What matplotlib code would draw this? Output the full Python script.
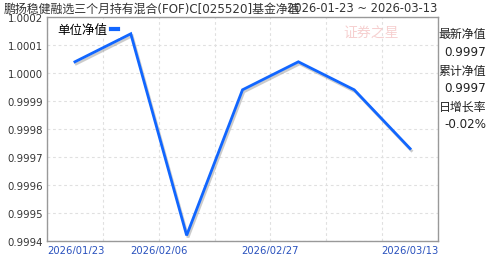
import matplotlib
matplotlib.use('Agg')
import matplotlib.pyplot as plt
import matplotlib.patheffects as pe
from matplotlib.lines import Line2D

plt.rcParams['font.family'] = ['DejaVu Sans', 'Noto Sans CJK SC']

# data
dates = ['2026/01/23', '2026/01/30', '2026/02/06', '2026/02/13',
         '2026/02/27', '2026/03/06', '2026/03/13']
nav = [1.00004, 1.00014, 0.99942, 0.99994, 1.00004, 0.99994, 0.99973]
y_ticks = [0.9994, 0.9995, 0.9996, 0.9997, 0.9998, 0.9999, 1.0000, 1.0001, 1.0002]
x_tick_labels = ['2026/01/23', '', '2026/02/06', '', '2026/02/27', '', '', '2026/03/13']

title_left = '鹏扬稳健融选三个月持有混合(FOF)C[025520]基金净值'
title_right = '2026-01-23 ~ 2026-03-13'
side_labels = ['最新净值', '0.9997', '累计净值', '0.9997', '日增长率', '-0.02%']

blue = '#1166ff'

fig = plt.figure(figsize=(4.88, 2.55), dpi=100)
ax = fig.add_axes([47 / 488, 13 / 255, 391 / 488, 224 / 255])

x = list(range(len(dates)))
ax.plot(x, nav, color=blue, lw=2.0, solid_joinstyle='miter',
        path_effects=[pe.SimpleLineShadow(offset=(1, -1.5), shadow_color='#999999', alpha=0.5),
                      pe.Normal()])

ax.set_xlim(-0.5, len(dates) - 0.5)
ax.set_ylim(y_ticks[0], y_ticks[-1])
ax.set_yticks(y_ticks)
ax.set_yticklabels([f'{v:.4f}' for v in y_ticks], fontsize=7.3, color='#333333')

grid_x = [i - 0.5 for i in range(len(x_tick_labels))]
ax.set_xticks(grid_x)
ax.set_xticklabels(x_tick_labels, fontsize=7.2, color='#2a52be')
lbls = ax.get_xticklabels()
lbls[0].set_horizontalalignment('left')
lbls[-1].set_horizontalalignment('right')

ax.tick_params(length=0, pad=3)
ax.grid(True, color='#e0e0e0', linestyle=(0, (2.5, 2.5)), linewidth=0.8)
for s in ax.spines.values():
    s.set_color('#999999')
    s.set_linewidth(1)

# legend
h = Line2D([], [], color=blue, lw=3)
leg = ax.legend([h], ['单位净值'], loc='upper left', fontsize=9, markerfirst=False,
                handlelength=0.6, handletextpad=0.3, borderpad=0.15,
                bbox_to_anchor=(0.005, 1.01), frameon=True, fancybox=False)
leg.get_frame().set_edgecolor('none')
leg.get_frame().set_facecolor('white')
leg.get_frame().set_alpha(1)

# watermark
ax.text(0.83, 0.93, '证券之星', transform=ax.transAxes, fontsize=10, color='#f4c4c4',
        ha='center', va='center', style='italic', alpha=0.8)

# titles
fig.text(4 / 488, 1 - 9 / 255, title_left, fontsize=8.6, color='#333333', ha='left', va='center')
fig.text(437 / 488, 1 - 9 / 255, title_right, fontsize=8.3, color='#333333', ha='right', va='center')

# right side info
ys = [35, 53, 71, 89, 107, 125]
for t, yy in zip(side_labels, ys):
    fig.text(486 / 488, 1 - yy / 255, t, fontsize=8.6, color='#222222', ha='right', va='center')

plt.savefig('out.png', dpi=100)
